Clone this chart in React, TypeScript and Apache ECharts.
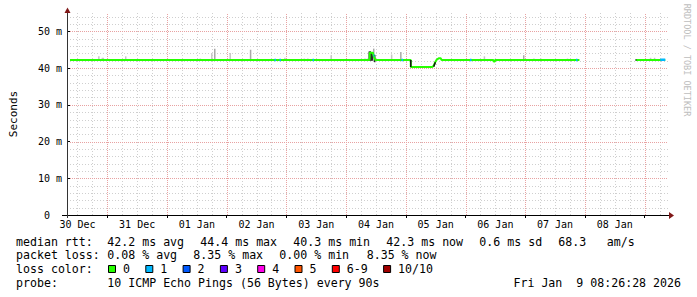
import React, { useEffect, useRef } from "react";
import * as echarts from "echarts";

// Time unit: hours since 30 Dec 00:00
const X_MIN = 9;
const X_MAX = 249;
const Y_MIN = 0;
const Y_MAX = 55;

const dayLabels = ["30 Dec", "31 Dec", "01 Jan", "02 Jan", "03 Jan", "04 Jan", "05 Jan", "06 Jan", "07 Jan", "08 Jan"];
const dayLabelHours = [12, 36, 60, 84, 108, 132, 156, 180, 204, 228];
const midnightHours = [24, 48, 72, 96, 120, 144, 168, 192, 216, 240];
const yTickValues = [0, 10, 20, 30, 40, 50];

// median rtt (ms); null = no data
const medianHours = [9, 129.4, 129.5, 130.8, 131.0, 131.8, 146.0, 146.0, 154.6, 155.2, 155.8, 156.4, 157.4, 158.0, 158.4, 179.2, 179.3, 179.8, 179.9, 213.8, 213.9, 236.5, 248.3];
const medianMs = [42.2, 42.2, 44.2, 44.2, 43.4, 42.2, 42.2, 40.3, 40.3, 40.6, 41.6, 42.3, 42.7, 42.7, 42.2, 42.2, 41.8, 41.8, 42.2, 42.2, null, 42.2, 42.2];

// loss = 1 segments of the median line
const loss1Start = [91.2, 93.2, 106.5, 131.0, 142.3, 169.8, 212.4, 246.3];
const loss1End = [91.8, 93.8, 107.1, 131.4, 142.9, 170.4, 213.0, 248.3];
const loss1Ms = [42.2, 42.2, 42.2, 43.4, 42.2, 42.2, 42.2, 42.3];

// dark transitions of the median line
const darkStart = [146.0, 155.2, 236.3];
const darkEnd = [146.0, 155.9, 236.7];
const darkFromMs = [42.2, 40.4, 42.2];
const darkToMs = [40.3, 41.6, 42.2];

// smoke (ping spread): hour, low ms, high ms, shade (0 light, 1 mid, 2 dark)
const smokeHours = [20.6, 22.0, 22.4, 31.4, 61.4, 66.0, 67.2, 73.4, 81.6, 95.4, 103.2, 104.6, 114.0, 127.6, 128.6, 129.3, 129.7, 130.1, 130.5, 131.1, 131.5, 138.3, 142.0, 175.6, 191.4, 195.5, 198.3, 209.0, 242.4, 244.0];
const smokeLow = [42.2, 42.2, 42.2, 42.2, 42.2, 42.2, 42.2, 42.2, 42.2, 42.2, 42.2, 42.2, 42.2, 42.2, 42.2, 42.0, 42.0, 42.0, 42.0, 41.8, 41.6, 42.2, 42.2, 42.2, 42.2, 42.2, 42.2, 42.2, 42.2, 42.2];
const smokeHigh = [43.2, 42.8, 42.8, 43.2, 42.6, 44.1, 45.3, 44.1, 45.0, 42.8, 42.6, 42.6, 43.5, 42.6, 42.6, 44.5, 44.6, 44.4, 43.8, 45.3, 43.6, 43.7, 44.4, 43.2, 43.5, 42.6, 42.6, 42.6, 42.8, 42.8];
const smokeShade = [0, 0, 0, 0, 0, 0, 1, 0, 1, 0, 0, 0, 0, 0, 0, 2, 2, 2, 2, 1, 2, 0, 1, 0, 1, 0, 0, 0, 0, 0];

const lossLabels = ["0", "1", "2", "3", "4", "5", "6-9", "10/10"];
const lossColors = ["#26ff00", "#00b8ff", "#0059ff", "#5e00ff", "#ff00e9", "#ff5500", "#ff0000", "#a00000"];

const medianStats = ["42.2 ms avg", "44.4 ms max", "40.3 ms min", "42.3 ms now", "0.6 ms sd", "68.3", "am/s"];
const lossStats = ["0.08 % avg", "8.35 % max", "0.00 % min", "8.35 % now"];
const probeText = "10 ICMP Echo Pings (56 Bytes) every 90s";
const stampText = "Fri Jan  9 08:26:28 2026";

const MONO = "'DejaVu Sans Mono', monospace";
const smokeColors = ["#c6c6c6", "#a9a9a9", "#2a2a2a"];

export default function App() {
  const ref = useRef<HTMLDivElement>(null);

  useEffect(() => {
    if (!ref.current) return;
    const chart = echarts.init(ref.current, null, { renderer: "svg" });

    // grid line definitions: [kind 0 = vertical / 1 = horizontal, value, major]
    const gridData: number[][] = [];
    for (let h = 12; h < X_MAX; h += 6) {
      if (h <= X_MIN) continue;
      gridData.push([0, h, h % 24 === 0 ? 1 : 0]);
    }
    for (let v = 2; v < Y_MAX; v += 2) {
      gridData.push([1, v, v % 10 === 0 ? 1 : 0]);
    }
    gridData.sort((a, b) => a[2] - b[2]);

    const medianData = medianHours.map((h, i) => [h, medianMs[i]]);
    const lossData: any[] = [];
    loss1Start.forEach((s, i) => {
      lossData.push([s, loss1Ms[i]]);
      lossData.push([loss1End[i], loss1Ms[i]]);
      lossData.push([loss1End[i], null]);
    });
    const darkData: any[] = [];
    darkStart.forEach((s, i) => {
      darkData.push([s, darkFromMs[i]]);
      darkData.push([darkEnd[i], darkToMs[i]]);
      darkData.push([darkEnd[i], null]);
    });
    const smokeData = smokeHours.map((h, i) => [h, smokeLow[i], smokeHigh[i], smokeShade[i]]);

    const txt = (text: string, x: number, y: number, align = "left") => ({
      type: "text",
      x,
      y,
      style: { text, fontSize: 11.6, fontFamily: MONO, fill: "#000", align, verticalAlign: "middle", textAlign: align, textVerticalAlign: "middle" },
    });

    // legend squares
    const legendEls: any[] = [];
    let lx = 108;
    lossLabels.forEach((lab, i) => {
      legendEls.push({
        type: "rect",
        shape: { x: lx + 0.5, y: 265.5, width: 7, height: 7 },
        style: { fill: lossColors[i], stroke: "#000", lineWidth: 1 },
      });
      legendEls.push(txt(lab, lx + 15, 269));
      lx += lab.length * 7 + 30.3;
    });

    const row1X = [107.3, 200.3, 293.3, 386.3, 479.3, 558.3, 606.7];
    const row2X = [107.3, 193.3, 279.3, 366.7];

    const graphic: any[] = [
      // axes
      { type: "line", shape: { x1: 62, y1: 215.5, x2: 669, y2: 215.5 }, style: { stroke: "#000", lineWidth: 1 }, z: 10 },
      { type: "line", shape: { x1: 67.5, y1: 218, x2: 67.5, y2: 12 }, style: { stroke: "#333", lineWidth: 1 }, z: 10 },
      { type: "polygon", shape: { points: [[669, 212], [669, 219], [674, 215.5]] }, style: { fill: "#801818" }, z: 10 },
      { type: "polygon", shape: { points: [[64.5, 13], [70.5, 13], [67.5, 7.5]] }, style: { fill: "#801818" }, z: 10 },
      // watermark
      {
        type: "text",
        x: 687,
        y: 60,
        rotation: -Math.PI / 2,
        style: { text: "RRDTOOL / TOBI OETIKER", fontSize: 8.5, fontFamily: MONO, fill: "#bdbdbd", align: "center", verticalAlign: "middle", textAlign: "center", textVerticalAlign: "middle" },
      },
      txt("median rtt:", 16, 241.5),
      ...medianStats.map((s, i) => txt(s, row1X[i], 241.5)),
      txt("packet loss:", 16, 255.3),
      ...lossStats.map((s, i) => txt(s, row2X[i], 255.3)),
      txt("loss color:", 16, 269),
      ...legendEls,
      txt("probe:", 16, 283),
      txt(probeText, 107.3, 283),
      txt(stampText, 681, 283, "right"),
    ];

    chart.setOption({
      animation: false,
      backgroundColor: "#ffffff",
      grid: { left: 67, right: 30, top: 13, bottom: 82 },
      xAxis: {
        type: "value",
        min: X_MIN,
        max: X_MAX,
        axisLine: { show: false },
        splitLine: { show: false },
        axisTick: { show: true, customValues: midnightHours, length: 3, lineStyle: { color: "#000" } },
        axisLabel: {
          show: true,
          customValues: dayLabelHours,
          formatter: (v: number) => {
            const i = dayLabelHours.indexOf(Math.round(v));
            return i >= 0 ? dayLabels[i] : "";
          },
          margin: 4,
          fontSize: 10,
          fontFamily: MONO,
          color: "#000",
        },
      },
      yAxis: {
        type: "value",
        min: Y_MIN,
        max: Y_MAX,
        axisLine: { show: false },
        splitLine: { show: false },
        axisTick: { show: true, customValues: yTickValues, length: 3, lineStyle: { color: "#000" } },
        axisLabel: {
          show: true,
          customValues: yTickValues,
          formatter: (v: number) => (v === 0 ? "0  " : v + " m"),
          margin: 8,
          fontSize: 10,
          fontFamily: MONO,
          color: "#000",
        },
        name: "Seconds",
        nameLocation: "middle",
        nameRotate: 90,
        nameGap: 51,
        nameTextStyle: { fontSize: 11, fontFamily: MONO, color: "#000" },
      },
      series: [
        {
          type: "custom",
          name: "grid",
          silent: true,
          z: 0,
          clip: false,
          encode: { x: 1, y: 2 },
          data: gridData,
          renderItem: (params: any, api: any) => {
            const kind = api.value(0);
            const v = api.value(1);
            const major = api.value(2) === 1;
            let x1, y1, x2, y2;
            if (kind === 0) {
              const a = api.coord([v, Y_MIN]);
              const b = api.coord([v, Y_MAX]);
              x1 = Math.round(a[0]) + 0.5; x2 = x1; y1 = a[1]; y2 = b[1];
            } else {
              const a = api.coord([X_MIN, v]);
              const b = api.coord([X_MAX, v]);
              y1 = Math.round(a[1]) + 0.5; y2 = y1; x1 = a[0]; x2 = b[0] + 1;
            }
            return {
              type: "line",
              shape: { x1, y1, x2, y2 },
              style: { stroke: major ? "#e8a2a2" : "#cfcfcf", lineWidth: 1, lineDash: major ? [1, 1] : [1, 2] },
            };
          },
        },
        {
          type: "custom",
          name: "smoke",
          silent: true,
          z: 1,
          data: smokeData,
          encode: { x: 0, y: [1, 2] },
          renderItem: (params: any, api: any) => {
            const lo = api.coord([api.value(0), api.value(1)]);
            const hi = api.coord([api.value(0), api.value(2)]);
            const w = 1.5;
            return {
              type: "rect",
              shape: { x: lo[0] - w / 2, y: hi[1], width: w, height: lo[1] - hi[1] },
              style: { fill: smokeColors[api.value(3)] },
            };
          },
        },
        {
          type: "line",
          name: "median",
          data: medianData,
          showSymbol: false,
          symbol: "none",
          connectNulls: false,
          z: 3,
          lineStyle: { color: lossColors[0], width: 2 },
        },
        {
          type: "line",
          name: "transition",
          data: darkData,
          showSymbol: false,
          symbol: "none",
          connectNulls: false,
          z: 4,
          lineStyle: { color: "#111", width: 1.5 },
        },
        {
          type: "line",
          name: "loss 1",
          data: lossData,
          showSymbol: false,
          symbol: "none",
          connectNulls: false,
          z: 5,
          lineStyle: { color: lossColors[1], width: 2.5, cap: "butt" },
        },
      ],
      graphic,
    });

    return () => chart.dispose();
  }, []);

  return (
    <div
      ref={ref}
      style={{ position: "fixed", left: 0, top: 0, width: 697, height: 297, background: "#fff" }}
    />
  );
}
